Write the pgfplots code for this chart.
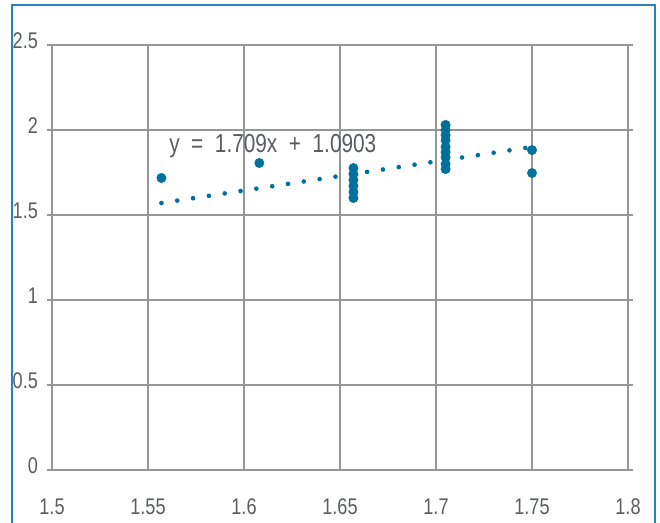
\documentclass[border=0pt]{standalone}
\usepackage{pgfplots}
\pgfplotsset{compat=1.18}
\usepackage{fontspec}
\setmainfont{Liberation Sans}[FakeStretch=0.8]
\definecolor{framec}{RGB}{40,130,185}
\definecolor{ptc}{RGB}{0,112,158}
\definecolor{gridc}{RGB}{150,150,150}
\definecolor{txtc}{RGB}{90,92,100}
\begin{document}
\begin{tikzpicture}[x=1pt,y=1pt]
\useasboundingbox (0,0) rectangle (495,391.5);
\draw[framec, line width=1pt] (9,-20) -- (9,387.75) -- (491.25,387.75) -- (491.25,-20);
\begin{axis}[
    at={(39pt,39pt)}, anchor=south west,
    scale only axis,
    width=432pt, height=318.75pt,
    xmin=1.5, xmax=1.8, ymin=0, ymax=2.5,
    xtick={1.5,1.55,...,1.8},
    ytick={0,0.5,...,2.5},
    grid=major,
    major grid style={gridc, line width=0.9pt},
    axis line style={gridc, line width=0.9pt},
    x axis line style={-}, y axis line style={-},
    tick style={gridc, line width=0.9pt},
    xtick style={draw=none},
    ytick align=outside, major tick length=4pt,
    tick label style={font=\fontsize{17}{19}\selectfont, text=txtc},
    /pgf/number format/assume math mode=true,
    xticklabel style={yshift=-18pt},
    yticklabel style={xshift=-3pt, yshift=3pt},
    axis background/.style={fill=white},
]
\addplot[ptc, line width=3.5pt, line cap=round, dash pattern=on 0pt off 12pt]
  coordinates {(1.557,1.5706) (1.75,1.9005)};
\addplot[only marks, mark=*, mark size=3.5pt, mark options={fill=ptc, draw=ptc}]
  coordinates {
  (1.557,1.718) (1.608,1.806)
  (1.657,1.776) (1.657,1.741) (1.657,1.706) (1.657,1.671) (1.657,1.635) (1.657,1.600)
  (1.705,2.03) (1.705,2.00) (1.705,1.97) (1.705,1.94) (1.705,1.90)
  (1.705,1.87) (1.705,1.84) (1.705,1.80) (1.705,1.77)
  (1.75,1.882) (1.75,1.747)
  };
\node[text=txtc, font=\fontsize{19.5}{21}\selectfont] at (axis cs:1.615,1.906) {y \ = \ 1.709x \ + \ 1.0903};
\end{axis}
\end{tikzpicture}
\end{document}
